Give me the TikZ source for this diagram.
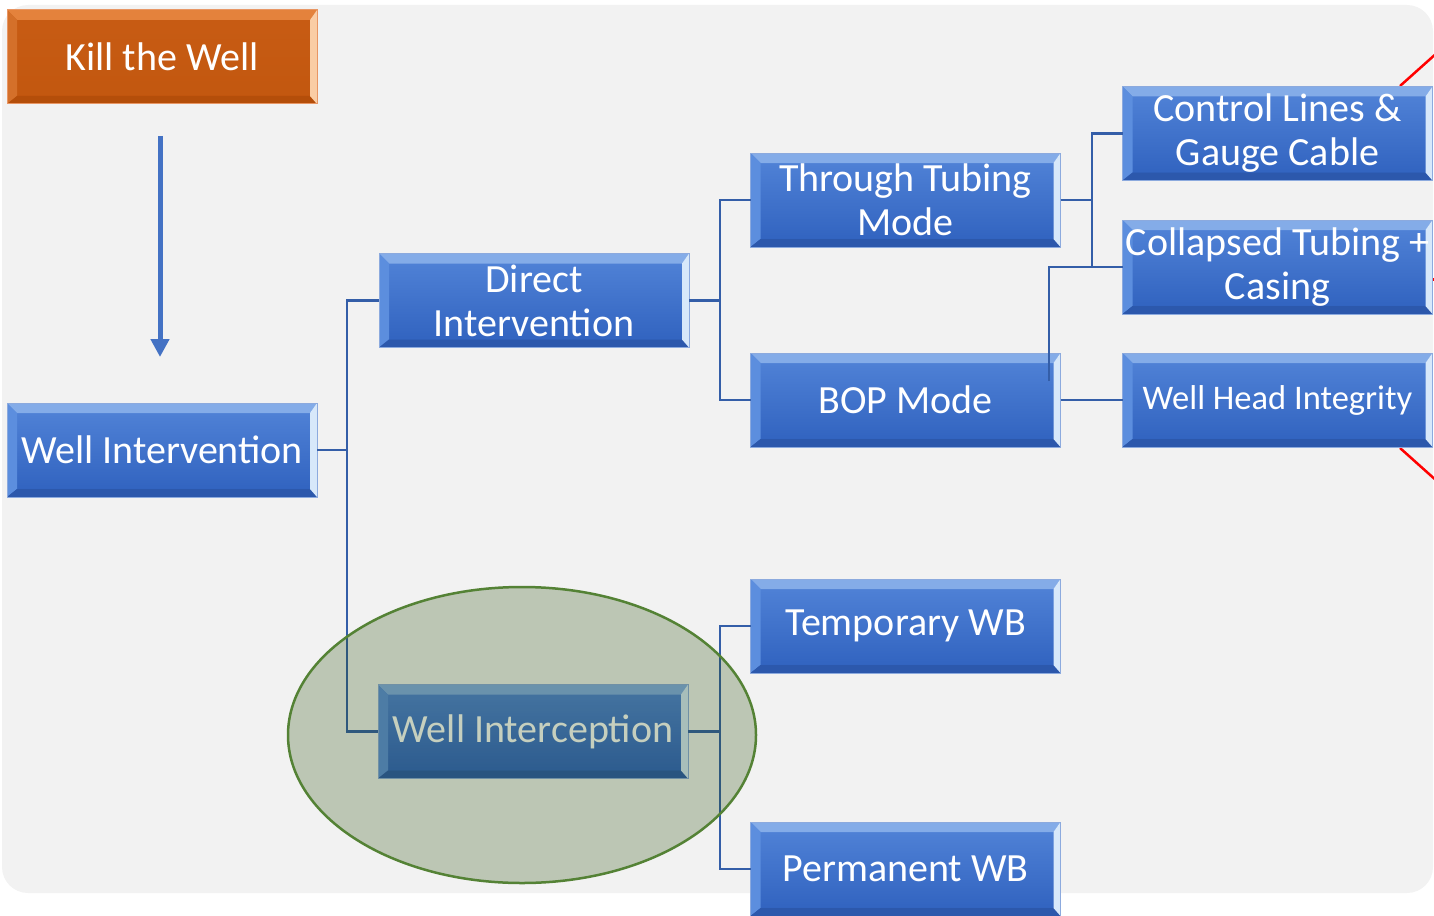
\documentclass[tikz,border=0pt]{standalone}
\usepackage{fontspec}
\setmainfont{Carlito}
\usetikzlibrary{arrows.meta}
\definecolor{bgc}{RGB}{242,242,242}
\definecolor{connc}{RGB}{52,94,168}
\definecolor{arrc}{RGB}{68,114,196}
\definecolor{btop}{RGB}{82,132,216}
\definecolor{bbot}{RGB}{47,97,190}
\definecolor{bbevT}{RGB}{132,172,232}
\definecolor{bbevR}{RGB}{215,232,250}
\definecolor{bbevL}{RGB}{92,142,222}
\definecolor{bbevB}{RGB}{44,88,172}
\definecolor{bline}{RGB}{140,170,222}
\definecolor{otop}{RGB}{200,92,20}
\definecolor{obot}{RGB}{194,87,15}
\definecolor{obevT}{RGB}{228,130,60}
\definecolor{obevR}{RGB}{250,205,165}
\definecolor{obevL}{RGB}{212,112,42}
\definecolor{obevB}{RGB}{180,78,10}
\definecolor{oline}{RGB}{232,150,100}
\definecolor{ellfill}{RGB}{35,73,4}
\definecolor{elldraw}{RGB}{84,130,53}
\tikzset{
  boxbase/.style={rectangle, minimum width=310pt, minimum height=94pt,
    inner sep=0pt, outer sep=0pt, text=white, align=center,
    font=\fontsize{40}{44}\selectfont, line width=1pt},
  bevelfx/.style n args={4}{path picture={
    \fill[#1] (path picture bounding box.north west) -- (path picture bounding box.north east)
      -- ([shift={(-7pt,-10pt)}]path picture bounding box.north east)
      -- ([shift={(10pt,-10pt)}]path picture bounding box.north west) -- cycle;
    \fill[#3] (path picture bounding box.north west) -- (path picture bounding box.south west)
      -- ([shift={(10pt,8pt)}]path picture bounding box.south west)
      -- ([shift={(10pt,-10pt)}]path picture bounding box.north west) -- cycle;
    \fill[#4] (path picture bounding box.south west) -- (path picture bounding box.south east)
      -- ([shift={(-7pt,8pt)}]path picture bounding box.south east)
      -- ([shift={(10pt,8pt)}]path picture bounding box.south west) -- cycle;
    \fill[#2] (path picture bounding box.north east) -- (path picture bounding box.south east)
      -- ([shift={(-7pt,8pt)}]path picture bounding box.south east)
      -- ([shift={(-7pt,-10pt)}]path picture bounding box.north east) -- cycle;
  }},
  bluebox/.style={boxbase, draw=bline, top color=btop, bottom color=bbot,
    bevelfx={bbevT}{bbevR}{bbevL}{bbevB}},
  orangebox/.style={boxbase, draw=oline, top color=otop, bottom color=obot,
    bevelfx={obevT}{obevR}{obevL}{obevB}},
  connector/.style={draw=connc, line width=2.5pt},
}
\begin{document}
\begin{tikzpicture}[x=1pt,y=-1pt]
\useasboundingbox (0,0) rectangle (1434,915);
\fill[bgc, rounded corners=26pt] (2,5) rectangle (1433,893);

% red partial lines at right edge
\draw[red, line width=2.5pt] (1400,86) -- (1438,52);
\draw[red, line width=2.5pt] (1400,448) -- (1438,482);
\draw[red, line width=2.5pt] (1429,279.5) -- (1436,279.5);

% nodes
\node[orangebox] (kill) at (162,57) {Kill the Well};
\node[bluebox] (wi) at (162,450) {Well Intervention};
\node[bluebox] (di) at (534,300.5) {Direct\\Intervention};
\node[bluebox] (wint) at (533,731.5) {Well Interception};
\node[bluebox] (tt) at (905.5,200) {Through Tubing\\Mode};
\node[bluebox] (bop) at (905.5,400) {BOP Mode};
\node[bluebox] (twb) at (905.5,626) {Temporary WB};
\node[bluebox] (pwb) at (905.5,869) {Permanent WB};
\node[bluebox] (cl) at (1277.5,133.5) {Control Lines \&\\Gauge Cable};
\node[bluebox] (ct) at (1277.5,267) {Collapsed Tubing +\\Casing};
\node[bluebox, font=\fontsize{34.5}{40}\selectfont] (wh) at (1277.5,400) {Well Head Integrity};

% connectors
\draw[connector] (wi.east) -- ++(30,0) |- (di.west);
\draw[connector] (wi.east) -- ++(30,0) |- (wint.west);
\draw[connector] (di.east) -- ++(31,0) |- (tt.west);
\draw[connector] (di.east) -- ++(31,0) |- (bop.west);
\draw[connector] (wint.east) -- ++(32,0) |- (twb.west);
\draw[connector] (wint.east) -- ++(32,0) |- (pwb.west);
\draw[connector] (tt.east) -- ++(31.5,0) |- (cl.west);
\draw[connector] (tt.east) -- ++(31.5,0) |- (ct.west);
\draw[connector] ([shift={(-11.5pt,-28pt)}]bop.north east) |- (ct.west);
\draw[connector] (bop.east) -- (wh.west);

% arrow
\draw[draw=arrc, line width=5pt, -{Triangle[width=18pt,length=18pt]},
  shorten <=32pt, shorten >=46pt] ([xshift=-2pt]kill.south) -- ([xshift=-2pt]wi.north);

% highlight ellipse
\draw[fill=ellfill, fill opacity=0.26, draw=elldraw, line width=2.5pt]
  (522,735) ellipse [x radius=234, y radius=148];
\end{tikzpicture}
\end{document}
